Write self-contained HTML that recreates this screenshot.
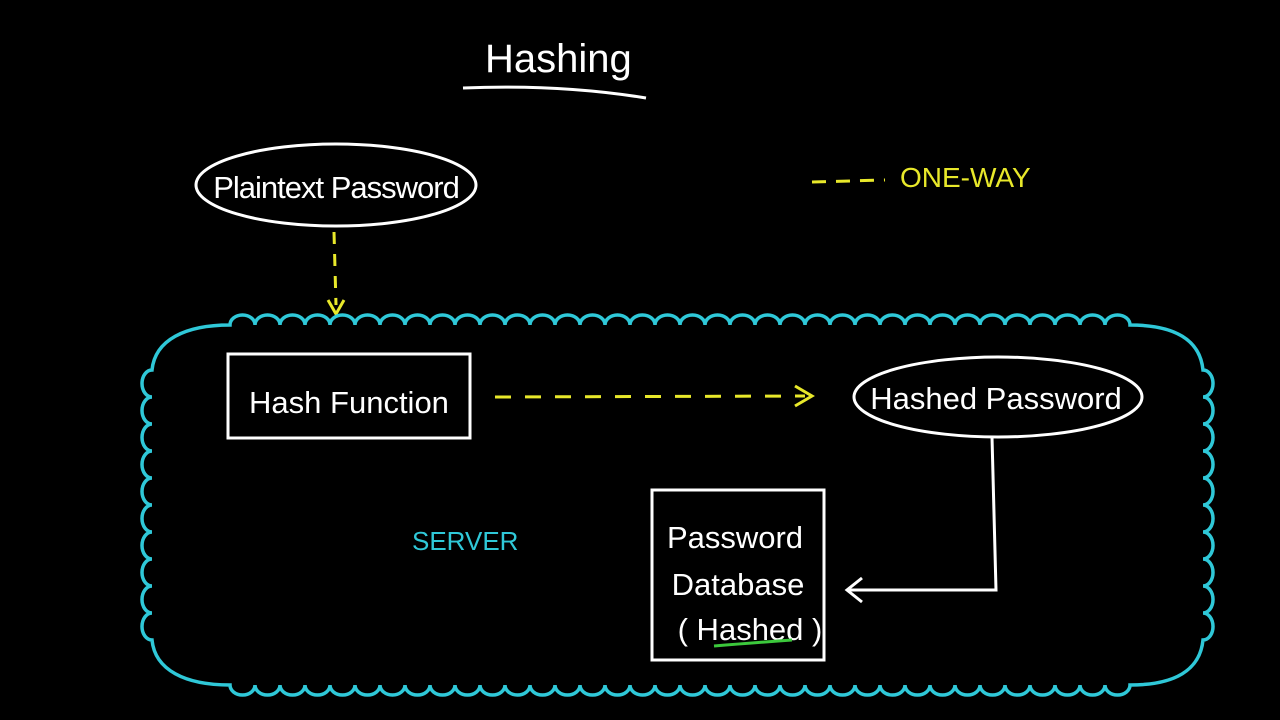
<!DOCTYPE html>
<html><head><meta charset="utf-8"><style>
html,body{margin:0;padding:0;background:#000;width:1280px;height:720px;overflow:hidden}
svg{display:block}
text{font-family:"Liberation Sans",sans-serif}
</style></head><body>
<svg width="1280" height="720" viewBox="0 0 1280 720">
<rect width="1280" height="720" fill="#000"/>
<!-- title -->
<text x="485" y="72" fill="#fff" font-size="40">Hashing</text>
<path d="M463 88 Q560 84 646 98" stroke="#fff" stroke-width="3" fill="none"/>
<!-- plaintext -->
<ellipse cx="336" cy="185" rx="140" ry="41" fill="none" stroke="#fff" stroke-width="3"/>
<text x="336" y="198" fill="#fff" font-size="31" text-anchor="middle" letter-spacing="-1">Plaintext Password</text>
<path d="M334 232 L336 305" stroke="#e8e82a" stroke-width="3" stroke-dasharray="12 10" fill="none"/>
<path d="M328 300 L336 314 L344 300" stroke="#e8e82a" stroke-width="3" fill="none"/>
<!-- legend -->
<path d="M812 182 L885 180" stroke="#e8e82a" stroke-width="3" stroke-dasharray="14 10" fill="none"/>
<text x="900" y="187" fill="#e8e82a" font-size="28">ONE-WAY</text>
<!-- cloud -->
<path fill="none" stroke="#2fc8d8" stroke-width="3.5" d="M230 325
a12.5 10 0 0 1 25 0 a12.5 10 0 0 1 25 0 a12.5 10 0 0 1 25 0 a12.5 10 0 0 1 25 0 a12.5 10 0 0 1 25 0 a12.5 10 0 0 1 25 0
a12.5 10 0 0 1 25 0 a12.5 10 0 0 1 25 0 a12.5 10 0 0 1 25 0 a12.5 10 0 0 1 25 0 a12.5 10 0 0 1 25 0 a12.5 10 0 0 1 25 0
a12.5 10 0 0 1 25 0 a12.5 10 0 0 1 25 0 a12.5 10 0 0 1 25 0 a12.5 10 0 0 1 25 0 a12.5 10 0 0 1 25 0 a12.5 10 0 0 1 25 0
a12.5 10 0 0 1 25 0 a12.5 10 0 0 1 25 0 a12.5 10 0 0 1 25 0 a12.5 10 0 0 1 25 0 a12.5 10 0 0 1 25 0 a12.5 10 0 0 1 25 0
a12.5 10 0 0 1 25 0 a12.5 10 0 0 1 25 0 a12.5 10 0 0 1 25 0 a12.5 10 0 0 1 25 0 a12.5 10 0 0 1 25 0 a12.5 10 0 0 1 25 0
a12.5 10 0 0 1 25 0 a12.5 10 0 0 1 25 0 a12.5 10 0 0 1 25 0 a12.5 10 0 0 1 25 0 a12.5 10 0 0 1 25 0 a12.5 10 0 0 1 25 0
C1175 325 1200 340 1203 370
a10 13.5 0 0 1 0 27 a10 13.5 0 0 1 0 27 a10 13.5 0 0 1 0 27 a10 13.5 0 0 1 0 27 a10 13.5 0 0 1 0 27
a10 13.5 0 0 1 0 27 a10 13.5 0 0 1 0 27 a10 13.5 0 0 1 0 27 a10 13.5 0 0 1 0 27 a10 13.5 0 0 1 0 27
C1200 670 1175 685 1130 685
a12.5 10 0 0 1 -25 0 a12.5 10 0 0 1 -25 0 a12.5 10 0 0 1 -25 0 a12.5 10 0 0 1 -25 0 a12.5 10 0 0 1 -25 0 a12.5 10 0 0 1 -25 0
a12.5 10 0 0 1 -25 0 a12.5 10 0 0 1 -25 0 a12.5 10 0 0 1 -25 0 a12.5 10 0 0 1 -25 0 a12.5 10 0 0 1 -25 0 a12.5 10 0 0 1 -25 0
a12.5 10 0 0 1 -25 0 a12.5 10 0 0 1 -25 0 a12.5 10 0 0 1 -25 0 a12.5 10 0 0 1 -25 0 a12.5 10 0 0 1 -25 0 a12.5 10 0 0 1 -25 0
a12.5 10 0 0 1 -25 0 a12.5 10 0 0 1 -25 0 a12.5 10 0 0 1 -25 0 a12.5 10 0 0 1 -25 0 a12.5 10 0 0 1 -25 0 a12.5 10 0 0 1 -25 0
a12.5 10 0 0 1 -25 0 a12.5 10 0 0 1 -25 0 a12.5 10 0 0 1 -25 0 a12.5 10 0 0 1 -25 0 a12.5 10 0 0 1 -25 0 a12.5 10 0 0 1 -25 0
a12.5 10 0 0 1 -25 0 a12.5 10 0 0 1 -25 0 a12.5 10 0 0 1 -25 0 a12.5 10 0 0 1 -25 0 a12.5 10 0 0 1 -25 0 a12.5 10 0 0 1 -25 0
C185 685 155 670 152 640
a10 13.5 0 0 1 0 -27 a10 13.5 0 0 1 0 -27 a10 13.5 0 0 1 0 -27 a10 13.5 0 0 1 0 -27 a10 13.5 0 0 1 0 -27
a10 13.5 0 0 1 0 -27 a10 13.5 0 0 1 0 -27 a10 13.5 0 0 1 0 -27 a10 13.5 0 0 1 0 -27 a10 13.5 0 0 1 0 -27
C155 340 185 325 230 325 Z"/>
<!-- hash function -->
<rect x="228" y="354" width="242" height="84" fill="none" stroke="#fff" stroke-width="3"/>
<text x="349" y="413" fill="#fff" font-size="31" text-anchor="middle">Hash Function</text>
<path d="M495 397 L805 396" stroke="#e8e82a" stroke-width="3" stroke-dasharray="16 14" fill="none"/>
<path d="M795 386 L812 396 L795 406" stroke="#e8e82a" stroke-width="3" fill="none"/>
<!-- hashed password -->
<ellipse cx="998" cy="397" rx="144" ry="40" fill="none" stroke="#fff" stroke-width="3"/>
<text x="996" y="409" fill="#fff" font-size="31" text-anchor="middle">Hashed Password</text>
<path d="M992 437 L996 590 L848 590" stroke="#fff" stroke-width="3" fill="none"/>
<path d="M862 578 L847 590 L862 602" stroke="#fff" stroke-width="3" fill="none"/>
<!-- server -->
<text x="412" y="550" fill="#2fc8d8" font-size="26">SERVER</text>
<!-- database -->
<rect x="652" y="490" width="172" height="170" fill="none" stroke="#fff" stroke-width="3"/>
<text x="735" y="548" fill="#fff" font-size="31" text-anchor="middle">Password</text>
<text x="738" y="595" fill="#fff" font-size="31" text-anchor="middle">Database</text>
<text x="750" y="640" fill="#fff" font-size="31" text-anchor="middle">( Hashed )</text>
<path d="M714 646 Q750 643 792 640" stroke="#3cc83c" stroke-width="3" fill="none"/>
</svg>
</body></html>
